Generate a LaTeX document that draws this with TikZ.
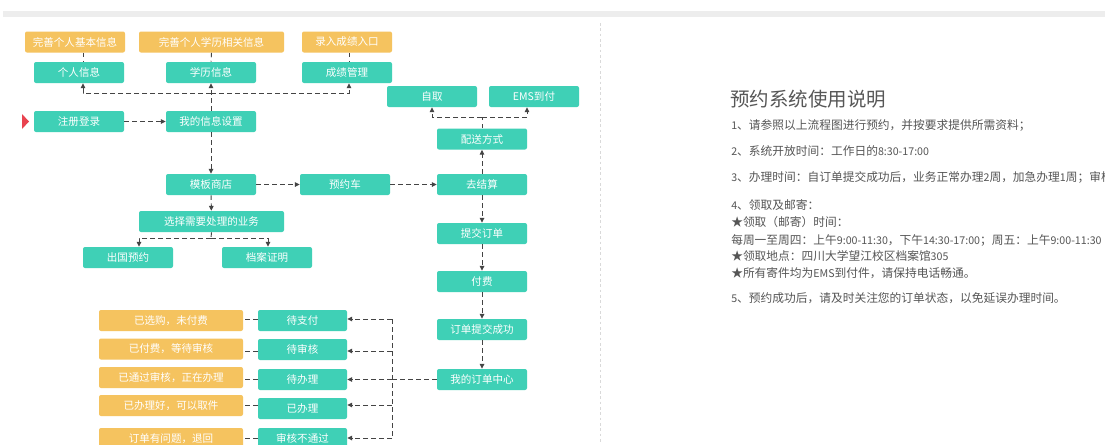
\documentclass[tikz,border=0pt]{standalone}
\usepackage{fontspec}
\newfontfamily\cjk{Noto Sans CJK SC}
\usetikzlibrary{arrows.meta,calc}
\definecolor{mint}{HTML}{3FD0B6}
\definecolor{gold}{HTML}{F5C35F}
\definecolor{ink}{HTML}{444444}
\definecolor{txt}{HTML}{555555}
\definecolor{startred}{HTML}{E9434F}
\newcommand{\lat}[1]{{\fontsize{8pt}{10pt}\selectfont #1}}
\begin{document}
\begin{tikzpicture}[x=0.75pt,y=-0.75pt,
  basebox/.style={rounded corners=1.5pt, minimum height=15.75pt, inner sep=0pt, text=white, font=\cjk\fontsize{7.9pt}{9pt}\selectfont},
  mbox/.style={basebox, fill=mint, minimum width=67.5pt},
  gbox/.style={basebox, fill=gold},
  dl/.style={draw=ink, line width=0.7pt, dash pattern=on 3.5pt off 2.5pt},
  arr/.style={-{Triangle[length=3.6pt,width=3.4pt]}},
  para/.style={anchor=west, inner sep=0pt, text=txt, font=\cjk\fontsize{8.8pt}{10pt}\selectfont}]
\useasboundingbox (0,0) rectangle (1105,444);
\clip (0,0) rectangle (1105,444);
\fill[white] (0,0) rectangle (1105,444);
\fill[black!7] (3,11) rectangle (1105,17);
\draw[black!15, dash pattern=on 2pt off 2pt] (600,23) -- (600,444);

% top rows
\node[gbox, minimum width=75pt] (o1) at (75,42) {完善个人基本信息};
\node[gbox, minimum width=108.75pt] (o2) at (211.5,42) {完善个人学历相关信息};
\node[gbox, minimum width=67.5pt] (o3) at (347,42) {录入成绩入口};
\node[mbox] (t1) at (79,72.5) {个人信息};
\node[mbox] (t2) at (211,72.5) {学历信息};
\node[mbox] (t3) at (347,72.5) {成绩管理};
\node[mbox] (reg) at (79,121.5) {注册登录};
\node[mbox] (info) at (211,121.5) {我的信息设置};
\node[mbox] (shop) at (211,184.5) {模板商店};
\node[mbox] (cart) at (345,184.5) {预约车};
\node[mbox] (settle) at (482,184.5) {去结算};
\node[mbox, minimum width=108.75pt] (choose) at (211.5,221.5) {选择需要处理的业务};
\node[mbox] (abroad) at (128,257.5) {出国预约};
\node[mbox] (archive) at (267,257.5) {档案证明};
\node[mbox] (ship) at (482,139) {配送方式};
\node[mbox] (self) at (432,96.5) {自取};
\node[mbox] (ems) at (534,96.5) {EMS到付};
\node[mbox] (submit) at (482,233.5) {提交订单};
\node[mbox] (fee) at (482,281.5) {付费};
\node[mbox] (ok) at (482,329.5) {订单提交成功};
\node[mbox] (ordc) at (482,379.5) {我的订单中心};

% status
\node[mbox, minimum width=66.75pt] (s1) at (302.5,320.5) {待支付};
\node[mbox, minimum width=66.75pt] (s2) at (302.5,349.5) {待审核};
\node[mbox, minimum width=66.75pt] (s3) at (302.5,379.5) {待办理};
\node[mbox, minimum width=66.75pt] (s4) at (302.5,408.5) {已办理};
\node[mbox, minimum width=66.75pt] (s5) at (302.5,438.5) {审核不通过};
\node[gbox, minimum width=108pt] (g1) at (171,320.5) {已选购，未付费};
\node[gbox, minimum width=108pt] (g2) at (171,349) {已付费，等待审核};
\node[gbox, minimum width=108pt] (g3) at (171,377.5) {已通过审核，正在办理};
\node[gbox, minimum width=108pt] (g4) at (171,405.5) {已办理好，可以取件};
\node[gbox, minimum width=108pt] (g5) at (171,438.5) {订单有问题，退回};

% start marker
\fill[startred] (22,114) -- (29,121.5) -- (22,129) -- cycle;

% connectors top
\draw[dl] ($(o1.south)+(8,0)$) -- ($(t1.north)+(4,0)$);
\draw[dl] (o2.south) -- (t2.north);
\draw[dl] ($(o3.south)+(2,0)$) -- ($(t3.north)+(2,0)$);
\coordinate (j1) at (211,93);
\draw[dl,arr] (info.north) -- (t2.south);
\draw[dl,arr] (j1) -| ($(t1.south)+(4,0)$);
\draw[dl,arr] (j1) -| ($(t3.south)+(2,0)$);
\draw[dl,arr] (reg) -- (info);
\draw[dl,arr] (info) -- (shop);
\draw[dl,arr] (shop) -- (cart);
\draw[dl,arr] (cart) -- (settle);
\draw[dl,arr] (shop) -- (choose);
\coordinate (j2) at (211,238);
\draw[dl] (choose.south) -- (j2);
\draw[dl,arr] (j2) -| ($(abroad.north)+(11,0)$);
\draw[dl,arr] (j2) -| ($(archive.north)+(1,0)$);
\draw[dl,arr] (settle) -- (ship);
\coordinate (j3) at (482,117);
\draw[dl] (ship.north) -- (j3);
\draw[dl,arr] (j3) -| (self.south);
\draw[dl,arr] (j3) -| ($(ems.south)+(-7,0)$);
\draw[dl,arr] (settle) -- (submit);
\draw[dl,arr] (submit) -- (fee);
\draw[dl,arr] (fee) -- (ok);
\draw[dl,arr] (ok) -- (ordc);

% order centre bus
\coordinate (v1) at (392,319);
\coordinate (v2) at (392,351);
\coordinate (v3) at (392,379.5);
\coordinate (v4) at (392,405);
\coordinate (v5) at (392,438);
\draw[dl] (ordc.west) -- (v3);
\draw[dl] (v1) -- (v5);
\draw[dl,arr] (v1) -- (v1 -| s1.east);
\draw[dl,arr] (v2) -- (v2 -| s2.east);
\draw[dl,arr] (v3) -- (v3 -| s3.east);
\draw[dl,arr] (v4) -- (v4 -| s4.east);
\draw[dl,arr] (v5) -- (v5 -| s5.east);
\draw[dl] (s1.west |- v1) -- (g1.east |- v1);
\draw[dl] (s2.west |- v2) -- (g2.east |- v2);
\draw[dl] (s3.west |- v3) -- (g3.east |- v3);
\draw[dl] (s4.west |- v4) -- (g4.east |- v4);
\draw[dl] (s5.west |- v5) -- (g5.east |- v5);

% right-hand text
\node[para, text=ink!90, font=\cjk\fontsize{14.6pt}{16pt}\selectfont] (title) at (730,99) {预约系统使用说明};
\node[para] (l1) at (731,125) {\lat{1}、请参照以上流程图进行预约，并按要求提供所需资料；};
\node[para] (l2) at (731,151.5) {\lat{2}、系统开放时间：工作日的\lat{8:30-17:00}};
\node[para] (l3) at (731,177.5) {\lat{3}、办理时间：自订单提交成功后，业务正常办理\lat{2}周，加急办理\lat{1}周；审核};
\node[para] (l4) at (731,205) {\lat{4}、领取及邮寄：};
\node[para] (l5) at (731,222.5) {★领取（邮寄）时间：};
\node[para] (l6) at (731,240) {每周一至周四：上午\lat{9:00-11:30}，下午\lat{14:30-17:00}；周五：上午\lat{9:00-11:30}};
\node[para] (l7) at (731,256.5) {★领取地点：四川大学望江校区档案馆\lat{305}};
\node[para] (l8) at (731,273) {★所有寄件均为\lat{EMS}到付件，请保持电话畅通。};
\node[para] (l9) at (731,298) {\lat{5}、预约成功后，请及时关注您的订单状态，以免延误办理时间。};
\end{tikzpicture}
\end{document}
